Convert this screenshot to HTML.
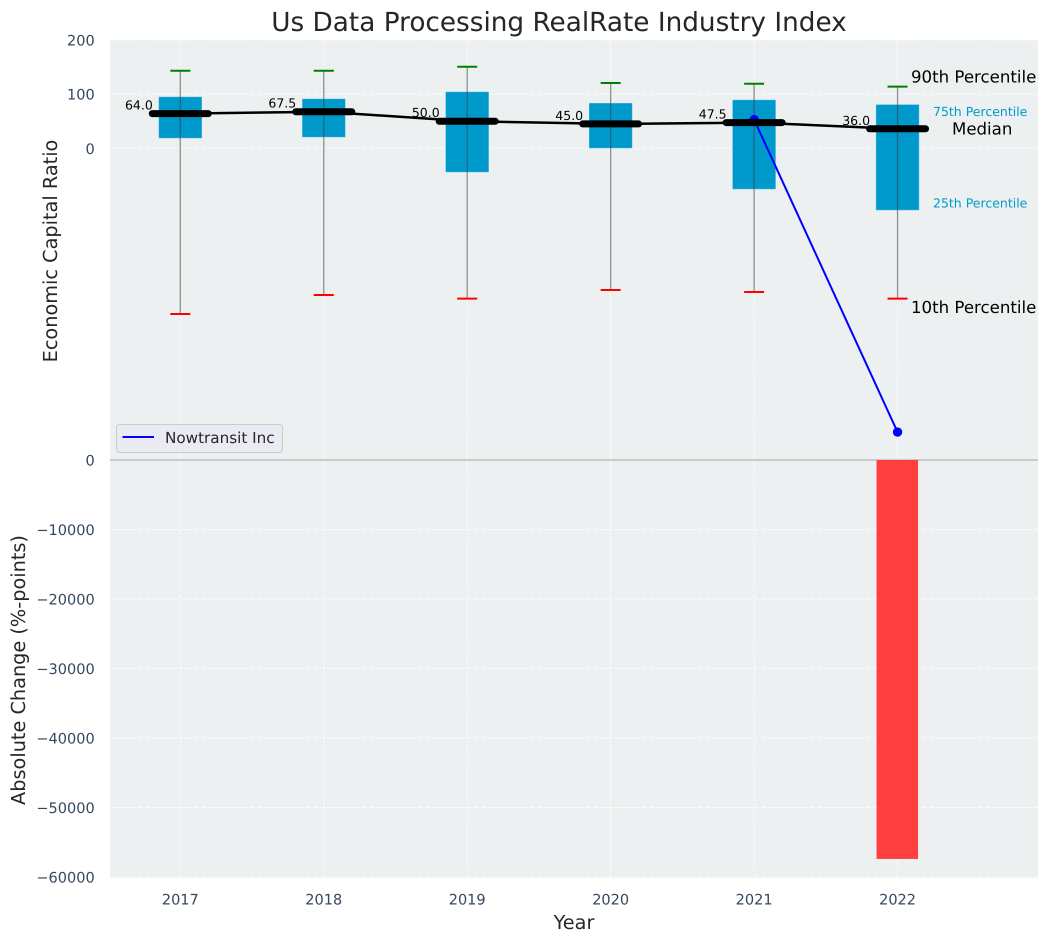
<!DOCTYPE html>
<html>
<head>
<meta charset="utf-8">
<title>Us Data Processing RealRate Industry Index</title>
<style>
html,body{margin:0;padding:0;background:#fff;width:1048px;height:942px;overflow:hidden}
svg{display:block;font-family:"DejaVu Sans","Liberation Sans",sans-serif;text-rendering:geometricPrecision}
</style>
</head>
<body>
<svg id="chart" width="1048" height="942" viewBox="0 0 1048 942" xmlns="http://www.w3.org/2000/svg">
  <rect x="0" y="0" width="1048" height="942" fill="#ffffff"/>
  <rect x="110" y="40" width="928" height="419.5" fill="#ecf0f1"/>
  <rect x="110" y="460" width="928" height="418" fill="#ecf0f1"/>
  <g id="grid"></g>
  <g id="bars"></g>
  <g id="boxes"></g>
  <g id="company"></g>
  <g id="medians"></g>
  <g id="annotations"></g>
  <g id="ticks"></g>
  <text x="559" y="31" text-anchor="middle" font-size="26.3px" fill="#262626">Us Data Processing RealRate Industry Index</text>
  <text transform="translate(57,251) rotate(-90)" text-anchor="middle" font-size="19.3px" fill="#262626">Economic Capital Ratio</text>
  <text transform="translate(25,670) rotate(-90)" text-anchor="middle" font-size="19.3px" fill="#262626">Absolute Change (%-points)</text>
  <text x="574" y="929" text-anchor="middle" font-size="19.3px" fill="#262626">Year</text>
  <g>
    <rect x="116.5" y="424.5" width="166" height="28" rx="3" fill="#eaeaf2" fill-opacity="0.8" stroke="#cccccc" stroke-width="1"/>
    <line x1="122.5" x2="154" y1="437" y2="437" stroke="#0000ff" stroke-width="2"/>
    <text x="165" y="443" font-size="15.2px" fill="#262626">Nowtransit Inc</text>
  </g>
</svg>
<script>
var years = [2017, 2018, 2019, 2020, 2021, 2022];
var p90 = [143.3, 143.3, 150.7, 120.6, 119.3, 113.8];
var p75 = [95.3, 91.6, 104.5, 83.7, 89.7, 81];
var medianValues = [64.0, 67.5, 50.0, 45.0, 47.5, 36.0];
var p25 = [18.5, 20.3, -44.3, 0, -75.7, -114.5];
var p10 = [-306, -271, -277.7, -261.7, -265.4, -277.7];
var companyYears = [2021, 2022];
var companyValues = [53, -524];
var changeYears = [2022];
var changeValues = [-57400];
var topTicks = [200, 100, 0];
var bottomTicks = [0, -10000, -20000, -30000, -40000, -50000, -60000];

var NS = 'http://www.w3.org/2000/svg';
function xPos(year) { return 180.3 + (year - 2017) * 143.45; }
function yTop(v) { return 148.3 - v * 0.5415; }
function yBottom(v) { return 460 - v * (417 / 60000); }
function make(parent, tag, attrs, text) {
  var el = document.createElementNS(NS, tag);
  for (var k in attrs) { el.setAttribute(k, attrs[k]); }
  if (text !== undefined) { el.textContent = text; }
  document.getElementById(parent).appendChild(el);
  return el;
}
function fmt(v) { return v < 0 ? '\u2212' + Math.abs(v) : String(v); }
var el, i, xc, top75, bot25;

/* grid lines and tick labels */
years.forEach(function (yr) {
  var x = xPos(yr);
  el = make('grid', 'line', {x1: x, x2: x, y1: 40, y2: 459.5, stroke: '#ffffff', 'stroke-opacity': 0.75, 'stroke-width': 1, 'stroke-dasharray': '5 2'});
  
  
  el = make('grid', 'line', {x1: x, x2: x, y1: 460, y2: 878, stroke: '#ffffff', 'stroke-opacity': 0.75, 'stroke-width': 1, 'stroke-dasharray': '5 2'});
  
  
  el = make('ticks', 'text', {x: x, y: 904.5, 'text-anchor': 'middle', 'font-size': '14.5px', fill: '#34495e'}, yr);
  
  
});
topTicks.forEach(function (v) {
  var y = yTop(v);
  el = make('grid', 'line', {x1: 110, x2: 1038, y1: y, y2: y, stroke: '#ffffff', 'stroke-opacity': 0.75, 'stroke-width': 1, 'stroke-dasharray': '5 2'});
  
  
  el = make('ticks', 'text', {x: 94.7, y: y + 5.5, 'text-anchor': 'end', 'font-size': '14.5px', fill: '#34495e'}, fmt(v));
  
  
});
bottomTicks.forEach(function (v) {
  var y = yBottom(v);
  el = make('grid', 'line', {x1: 110, x2: 1038, y1: y, y2: y, stroke: v === 0 ? '#bdbdbd' : '#ffffff', 'stroke-opacity': v === 0 ? 1 : 0.75, 'stroke-width': v === 0 ? 1.5 : 1, 'stroke-dasharray': v === 0 ? 'none' : '5 2'});
  
  
  el = make('ticks', 'text', {x: 94.7, y: y + 5.5, 'text-anchor': 'end', 'font-size': '14.5px', fill: '#34495e'}, fmt(v));
  
  
});

/* absolute change bars */
for (i = 0; i < changeYears.length; i++) {
  xc = xPos(changeYears[i]);
  var yb = yBottom(changeValues[i]);
  var y0 = yBottom(0);
  el = make('bars', 'rect', {x: xc - 21, y: Math.min(y0, yb), width: 41.5, height: Math.abs(yb - y0), fill: '#ff3f3f'});
  
  
}

/* percentile boxes and whiskers */
for (i = 0; i < years.length; i++) {
  xc = xPos(years[i]);
  top75 = yTop(p75[i]);
  bot25 = yTop(p25[i]);
  el = make('boxes', 'rect', {x: xc - 21.7, y: top75, width: 43.4, height: bot25 - top75, fill: '#0099cc', stroke: '#ffffff', 'stroke-opacity': 0.35, 'stroke-width': 1});
  
  
  el = make('boxes', 'line', {x1: xc, x2: xc, y1: yTop(p90[i]), y2: yTop(p10[i]), stroke: '#3c3c3c', 'stroke-opacity': 0.55, 'stroke-width': 1.3});
  
  
  el = make('boxes', 'line', {x1: xc - 10, x2: xc + 10, y1: yTop(p90[i]), y2: yTop(p90[i]), stroke: '#008000', 'stroke-width': 2});
  
  
  el = make('boxes', 'line', {x1: xc - 10, x2: xc + 10, y1: yTop(p10[i]), y2: yTop(p10[i]), stroke: '#ff0000', 'stroke-width': 2});
  
  
}

/* company series */
var companyPts = companyYears.map(function (yr, k) { return xPos(yr) + ',' + yTop(companyValues[k]); }).join(' ');
el = make('company', 'polyline', {points: companyPts, fill: 'none', stroke: '#0000ff', 'stroke-width': 2});


companyYears.forEach(function (yr, k) {
  el = make('company', 'circle', {cx: xPos(yr), cy: yTop(companyValues[k]), r: 4.7, fill: '#0000ff'});
  
  
});

/* medians */
var medianPts = years.map(function (yr, k) { return xPos(yr) + ',' + yTop(medianValues[k]); }).join(' ');
el = make('medians', 'polyline', {points: medianPts, fill: 'none', stroke: '#000000', 'stroke-width': 2.5});


for (i = 0; i < years.length; i++) {
  xc = xPos(years[i]);
  var ym = yTop(medianValues[i]);
  el = make('medians', 'line', {x1: xc - 28, x2: xc + 28, y1: ym, y2: ym, stroke: '#000000', 'stroke-width': 7, 'stroke-linecap': 'round'});
  
  
  el = make('medians', 'text', {x: xc - 27.5, y: ym - 4, 'text-anchor': 'end', 'font-size': '12.5px', fill: '#000000'}, medianValues[i].toFixed(1));
  
  
}

/* percentile annotations beside the last box */
var last = years.length - 1;
el = make('annotations', 'text', {x: 911, y: yTop(p90[last]) - 4, 'font-size': '16.6px', fill: '#000000'}, '90th Percentile');


el = make('annotations', 'text', {x: 933, y: yTop(p75[last]) + 11.5, 'font-size': '12.5px', fill: '#0099cc'}, '75th Percentile');


el = make('annotations', 'text', {x: 952, y: yTop(medianValues[last]) + 5.5, 'font-size': '16.6px', fill: '#000000'}, 'Median');


el = make('annotations', 'text', {x: 933, y: yTop(p25[last]) - 3, 'font-size': '12.5px', fill: '#0099cc'}, '25th Percentile');


el = make('annotations', 'text', {x: 911, y: yTop(p10[last]) + 14.5, 'font-size': '16.6px', fill: '#000000'}, '10th Percentile');


</script>
</body>
</html>
